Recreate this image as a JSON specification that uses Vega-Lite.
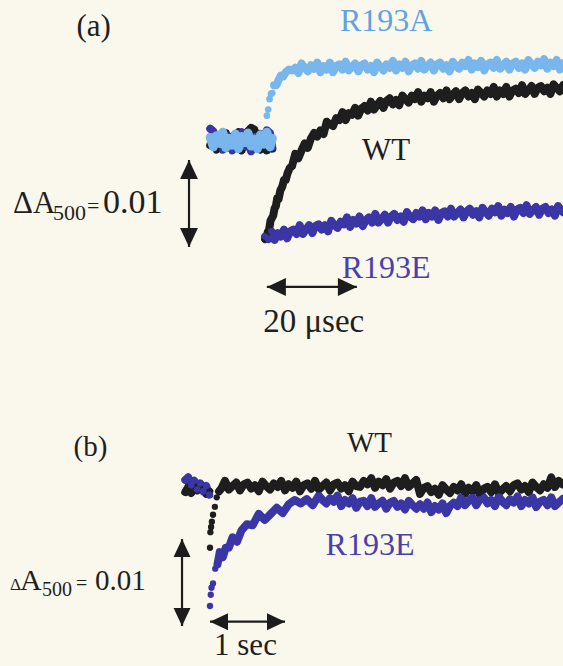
{
  "$schema": "https://vega.github.io/schema/vega-lite/v6.json",
  "background": "#faf8ec",
  "padding": 0,
  "spacing": 0,
  "bounds": "flush",
  "config": {"view": {"stroke": null}, "text": {"font": "Liberation Serif"}},
  "resolve": {"scale": {"x": "independent", "y": "independent", "color": "independent"}},
  "datasets": {
    "aPre": [
      {"s":"WT","t":-12.2,"dA":-0.0006},{"s":"WT","t":-11.5,"dA":0.0003},{"s":"WT","t":-10.8,"dA":-0.0011},{"s":"WT","t":-10.1,"dA":0.0005},{"s":"WT","t":-9.4,"dA":-0.0003},{"s":"WT","t":-8.7,"dA":0.0008},{"s":"WT","t":-8.0,"dA":-0.0009},{"s":"WT","t":-7.3,"dA":0.0004},{"s":"WT","t":-6.6,"dA":-0.0002},{"s":"WT","t":-5.9,"dA":0.0009},{"s":"WT","t":-5.2,"dA":-0.0012},{"s":"WT","t":-4.5,"dA":0.0006},{"s":"WT","t":-3.8,"dA":0.0010},{"s":"WT","t":-3.1,"dA":0.0014},{"s":"WT","t":-2.4,"dA":0.0012},{"s":"WT","t":-1.7,"dA":0.0003},{"s":"WT","t":-1.0,"dA":-0.0011},{"s":"WT","t":-0.3,"dA":0.0005},{"s":"WT","t":0.4,"dA":-0.0012},{"s":"WT","t":1.1,"dA":0.0002},{"s":"WT","t":1.6,"dA":-0.0010},
      {"s":"R193E","t":-12.2,"dA":0.0013},{"s":"R193E","t":-11.5,"dA":0.0010},{"s":"R193E","t":-10.8,"dA":-0.0004},{"s":"R193E","t":-10.1,"dA":0.0002},{"s":"R193E","t":-9.4,"dA":-0.0011},{"s":"R193E","t":-8.7,"dA":0.0006},{"s":"R193E","t":-8.0,"dA":0.0000},{"s":"R193E","t":-7.3,"dA":-0.0012},{"s":"R193E","t":-6.6,"dA":0.0005},{"s":"R193E","t":-5.9,"dA":-0.0003},{"s":"R193E","t":-5.2,"dA":0.0009},{"s":"R193E","t":-4.5,"dA":-0.0008},{"s":"R193E","t":-3.8,"dA":0.0002},{"s":"R193E","t":-3.1,"dA":-0.0013},{"s":"R193E","t":-2.4,"dA":0.0004},{"s":"R193E","t":-1.7,"dA":-0.0006},{"s":"R193E","t":-1.0,"dA":0.0007},{"s":"R193E","t":-0.3,"dA":-0.0002},{"s":"R193E","t":0.4,"dA":0.0011},{"s":"R193E","t":1.1,"dA":0.0008},{"s":"R193E","t":1.6,"dA":-0.0009},
      {"s":"R193A","t":-12.2,"dA":0.0003},{"s":"R193A","t":-11.5,"dA":-0.0008},{"s":"R193A","t":-10.8,"dA":0.0005},{"s":"R193A","t":-10.1,"dA":-0.0004},{"s":"R193A","t":-9.4,"dA":0.0009},{"s":"R193A","t":-8.7,"dA":-0.0009},{"s":"R193A","t":-8.0,"dA":0.0002},{"s":"R193A","t":-7.3,"dA":-0.0006},{"s":"R193A","t":-6.6,"dA":0.0007},{"s":"R193A","t":-5.9,"dA":-0.0010},{"s":"R193A","t":-5.2,"dA":0.0004},{"s":"R193A","t":-4.5,"dA":-0.0003},{"s":"R193A","t":-3.8,"dA":0.0008},{"s":"R193A","t":-3.1,"dA":-0.0007},{"s":"R193A","t":-2.4,"dA":0.0001},{"s":"R193A","t":-1.7,"dA":-0.0010},{"s":"R193A","t":-1.0,"dA":0.0006},{"s":"R193A","t":-0.3,"dA":-0.0005},{"s":"R193A","t":0.4,"dA":0.0009},{"s":"R193A","t":1.1,"dA":-0.0008},{"s":"R193A","t":1.6,"dA":0.0002}
    ],
    "aPost": [
      {"s":"WT","t":0,"dA":-0.0114},{"s":"WT","t":0.3,"dA":-0.0113},{"s":"WT","t":0.6,"dA":-0.0106},{"s":"WT","t":0.9,"dA":-0.0103},{"s":"WT","t":1.2,"dA":-0.0093},{"s":"WT","t":1.5,"dA":-0.0090},{"s":"WT","t":1.8,"dA":-0.0087},{"s":"WT","t":2.1,"dA":-0.0079},{"s":"WT","t":2.4,"dA":-0.0076},{"s":"WT","t":2.7,"dA":-0.0067},{"s":"WT","t":3.0,"dA":-0.0068},{"s":"WT","t":3.4,"dA":-0.0058},{"s":"WT","t":3.8,"dA":-0.0054},{"s":"WT","t":4.2,"dA":-0.0046},{"s":"WT","t":4.6,"dA":-0.0046},{"s":"WT","t":5.0,"dA":-0.0038},{"s":"WT","t":5.5,"dA":-0.0032},{"s":"WT","t":6.0,"dA":-0.0030},{"s":"WT","t":6.7,"dA":-0.0016},{"s":"WT","t":7.4,"dA":-0.0021},{"s":"WT","t":8.1,"dA":-0.0012},{"s":"WT","t":8.8,"dA":-0.0004},{"s":"WT","t":9.5,"dA":-0.0009},{"s":"WT","t":10.2,"dA":0.0002},{"s":"WT","t":10.9,"dA":0.0008},{"s":"WT","t":11.6,"dA":0.0004},{"s":"WT","t":12.3,"dA":0.0011},{"s":"WT","t":13.0,"dA":0.0007},{"s":"WT","t":13.7,"dA":0.0021},{"s":"WT","t":14.4,"dA":0.0018},{"s":"WT","t":15.1,"dA":0.0016},{"s":"WT","t":15.8,"dA":0.0025},{"s":"WT","t":16.5,"dA":0.0023},{"s":"WT","t":17.2,"dA":0.0032},{"s":"WT","t":17.9,"dA":0.0023},{"s":"WT","t":18.6,"dA":0.0031},{"s":"WT","t":19.3,"dA":0.0029},{"s":"WT","t":20.0,"dA":0.0037},{"s":"WT","t":20.7,"dA":0.0028},{"s":"WT","t":21.4,"dA":0.0036},{"s":"WT","t":22.1,"dA":0.0039},{"s":"WT","t":22.8,"dA":0.0034},{"s":"WT","t":23.5,"dA":0.0044},{"s":"WT","t":24.2,"dA":0.0035},{"s":"WT","t":24.9,"dA":0.0040},{"s":"WT","t":25.6,"dA":0.0045},{"s":"WT","t":26.3,"dA":0.0037},{"s":"WT","t":27.0,"dA":0.0045},{"s":"WT","t":27.7,"dA":0.0048},{"s":"WT","t":28.4,"dA":0.0041},{"s":"WT","t":29.1,"dA":0.0046},{"s":"WT","t":29.8,"dA":0.0040},{"s":"WT","t":30.5,"dA":0.0051},{"s":"WT","t":31.2,"dA":0.0047},{"s":"WT","t":31.9,"dA":0.0043},{"s":"WT","t":32.6,"dA":0.0051},{"s":"WT","t":33.3,"dA":0.0047},{"s":"WT","t":34.0,"dA":0.0055},{"s":"WT","t":34.7,"dA":0.0044},{"s":"WT","t":35.4,"dA":0.0051},{"s":"WT","t":36.1,"dA":0.0048},{"s":"WT","t":36.8,"dA":0.0055},{"s":"WT","t":37.5,"dA":0.0044},{"s":"WT","t":38.2,"dA":0.0051},{"s":"WT","t":38.9,"dA":0.0054},{"s":"WT","t":39.6,"dA":0.0048},{"s":"WT","t":40.3,"dA":0.0057},{"s":"WT","t":41.0,"dA":0.0047},{"s":"WT","t":41.7,"dA":0.0052},{"s":"WT","t":42.4,"dA":0.0056},{"s":"WT","t":43.1,"dA":0.0047},{"s":"WT","t":43.8,"dA":0.0054},{"s":"WT","t":44.5,"dA":0.0057},{"s":"WT","t":45.2,"dA":0.0050},{"s":"WT","t":45.9,"dA":0.0054},{"s":"WT","t":46.6,"dA":0.0047},{"s":"WT","t":47.3,"dA":0.0058},{"s":"WT","t":48.0,"dA":0.0054},{"s":"WT","t":48.7,"dA":0.0050},{"s":"WT","t":49.4,"dA":0.0057},{"s":"WT","t":50.1,"dA":0.0053},{"s":"WT","t":50.8,"dA":0.0061},{"s":"WT","t":51.5,"dA":0.0050},{"s":"WT","t":52.2,"dA":0.0057},{"s":"WT","t":52.9,"dA":0.0053},{"s":"WT","t":53.6,"dA":0.0061},{"s":"WT","t":54.3,"dA":0.0050},{"s":"WT","t":55.0,"dA":0.0057},{"s":"WT","t":55.7,"dA":0.0059},{"s":"WT","t":56.4,"dA":0.0054},{"s":"WT","t":57.1,"dA":0.0063},{"s":"WT","t":57.8,"dA":0.0053},{"s":"WT","t":58.5,"dA":0.0057},{"s":"WT","t":59.2,"dA":0.0062},{"s":"WT","t":59.9,"dA":0.0053},{"s":"WT","t":60.6,"dA":0.0060},{"s":"WT","t":61.3,"dA":0.0062},{"s":"WT","t":62.0,"dA":0.0056},{"s":"WT","t":62.7,"dA":0.0060},{"s":"WT","t":63.4,"dA":0.0053},{"s":"WT","t":64.1,"dA":0.0064},{"s":"WT","t":64.8,"dA":0.0060},{"s":"WT","t":65.5,"dA":0.0056},{"s":"WT","t":66.2,"dA":0.0063},
      {"s":"R193E","t":0,"dA":-0.0111},{"s":"R193E","t":0.7,"dA":-0.0114},{"s":"R193E","t":1.4,"dA":-0.0105},{"s":"R193E","t":2.1,"dA":-0.0115},{"s":"R193E","t":2.8,"dA":-0.0107},{"s":"R193E","t":3.5,"dA":-0.0111},{"s":"R193E","t":4.2,"dA":-0.0103},{"s":"R193E","t":4.9,"dA":-0.0113},{"s":"R193E","t":5.6,"dA":-0.0105},{"s":"R193E","t":6.3,"dA":-0.0103},{"s":"R193E","t":7.0,"dA":-0.0108},{"s":"R193E","t":7.7,"dA":-0.0098},{"s":"R193E","t":8.4,"dA":-0.0108},{"s":"R193E","t":9.1,"dA":-0.0103},{"s":"R193E","t":9.8,"dA":-0.0098},{"s":"R193E","t":10.5,"dA":-0.0107},{"s":"R193E","t":11.2,"dA":-0.0099},{"s":"R193E","t":11.9,"dA":-0.0097},{"s":"R193E","t":12.6,"dA":-0.0103},{"s":"R193E","t":13.3,"dA":-0.0098},{"s":"R193E","t":14.0,"dA":-0.0105},{"s":"R193E","t":14.7,"dA":-0.0093},{"s":"R193E","t":15.4,"dA":-0.0098},{"s":"R193E","t":16.1,"dA":-0.0101},{"s":"R193E","t":16.8,"dA":-0.0094},{"s":"R193E","t":17.5,"dA":-0.0097},{"s":"R193E","t":18.2,"dA":-0.0089},{"s":"R193E","t":18.9,"dA":-0.0100},{"s":"R193E","t":19.6,"dA":-0.0092},{"s":"R193E","t":20.3,"dA":-0.0096},{"s":"R193E","t":21.0,"dA":-0.0088},{"s":"R193E","t":21.7,"dA":-0.0099},{"s":"R193E","t":22.4,"dA":-0.0092},{"s":"R193E","t":23.1,"dA":-0.0089},{"s":"R193E","t":23.8,"dA":-0.0095},{"s":"R193E","t":24.5,"dA":-0.0085},{"s":"R193E","t":25.2,"dA":-0.0095},{"s":"R193E","t":25.9,"dA":-0.0091},{"s":"R193E","t":26.6,"dA":-0.0086},{"s":"R193E","t":27.3,"dA":-0.0095},{"s":"R193E","t":28.0,"dA":-0.0088},{"s":"R193E","t":28.7,"dA":-0.0085},{"s":"R193E","t":29.4,"dA":-0.0092},{"s":"R193E","t":30.1,"dA":-0.0088},{"s":"R193E","t":30.8,"dA":-0.0094},{"s":"R193E","t":31.5,"dA":-0.0083},{"s":"R193E","t":32.2,"dA":-0.0088},{"s":"R193E","t":32.9,"dA":-0.0091},{"s":"R193E","t":33.6,"dA":-0.0084},{"s":"R193E","t":34.3,"dA":-0.0088},{"s":"R193E","t":35.0,"dA":-0.0081},{"s":"R193E","t":35.7,"dA":-0.0091},{"s":"R193E","t":36.4,"dA":-0.0084},{"s":"R193E","t":37.1,"dA":-0.0088},{"s":"R193E","t":37.8,"dA":-0.0081},{"s":"R193E","t":38.5,"dA":-0.0092},{"s":"R193E","t":39.2,"dA":-0.0084},{"s":"R193E","t":39.9,"dA":-0.0082},{"s":"R193E","t":40.6,"dA":-0.0088},{"s":"R193E","t":41.3,"dA":-0.0079},{"s":"R193E","t":42.0,"dA":-0.0088},{"s":"R193E","t":42.7,"dA":-0.0084},{"s":"R193E","t":43.4,"dA":-0.0080},{"s":"R193E","t":44.1,"dA":-0.0089},{"s":"R193E","t":44.8,"dA":-0.0082},{"s":"R193E","t":45.5,"dA":-0.0079},{"s":"R193E","t":46.2,"dA":-0.0086},{"s":"R193E","t":46.9,"dA":-0.0082},{"s":"R193E","t":47.6,"dA":-0.0089},{"s":"R193E","t":48.3,"dA":-0.0078},{"s":"R193E","t":49.0,"dA":-0.0083},{"s":"R193E","t":49.7,"dA":-0.0087},{"s":"R193E","t":50.4,"dA":-0.0079},{"s":"R193E","t":51.1,"dA":-0.0083},{"s":"R193E","t":51.8,"dA":-0.0076},{"s":"R193E","t":52.5,"dA":-0.0087},{"s":"R193E","t":53.2,"dA":-0.0080},{"s":"R193E","t":53.9,"dA":-0.0084},{"s":"R193E","t":54.6,"dA":-0.0077},{"s":"R193E","t":55.3,"dA":-0.0088},{"s":"R193E","t":56.0,"dA":-0.0080},{"s":"R193E","t":56.7,"dA":-0.0078},{"s":"R193E","t":57.4,"dA":-0.0084},{"s":"R193E","t":58.1,"dA":-0.0075},{"s":"R193E","t":58.8,"dA":-0.0085},{"s":"R193E","t":59.5,"dA":-0.0081},{"s":"R193E","t":60.2,"dA":-0.0077},{"s":"R193E","t":60.9,"dA":-0.0086},{"s":"R193E","t":61.6,"dA":-0.0079},{"s":"R193E","t":62.3,"dA":-0.0077},{"s":"R193E","t":63.0,"dA":-0.0084},{"s":"R193E","t":63.7,"dA":-0.0080},{"s":"R193E","t":64.4,"dA":-0.0087},{"s":"R193E","t":65.1,"dA":-0.0076},{"s":"R193E","t":65.8,"dA":-0.0081},{"s":"R193E","t":66.2,"dA":-0.0083},
      {"s":"R193A","t":0.4,"dA":0.0028},{"s":"R193A","t":0.7,"dA":0.0035},{"s":"R193A","t":1.0,"dA":0.0047},{"s":"R193A","t":1.3,"dA":0.0053},{"s":"R193A","t":1.6,"dA":0.0054},{"s":"R193A","t":2.0,"dA":0.0063},{"s":"R193A","t":2.5,"dA":0.0063},{"s":"R193A","t":3.0,"dA":0.0069},{"s":"R193A","t":3.5,"dA":0.0074},{"s":"R193A","t":4.0,"dA":0.0073},{"s":"R193A","t":4.6,"dA":0.0078},{"s":"R193A","t":5.3,"dA":0.0081},{"s":"R193A","t":6.0,"dA":0.0080},{"s":"R193A","t":6.7,"dA":0.0083},{"s":"R193A","t":7.4,"dA":0.0077},{"s":"R193A","t":8.1,"dA":0.0088},{"s":"R193A","t":8.8,"dA":0.0083},{"s":"R193A","t":9.5,"dA":0.0079},{"s":"R193A","t":10.2,"dA":0.0086},{"s":"R193A","t":10.9,"dA":0.0082},{"s":"R193A","t":11.6,"dA":0.0089},{"s":"R193A","t":12.3,"dA":0.0078},{"s":"R193A","t":13.0,"dA":0.0085},{"s":"R193A","t":13.7,"dA":0.0081},{"s":"R193A","t":14.4,"dA":0.0089},{"s":"R193A","t":15.1,"dA":0.0078},{"s":"R193A","t":15.8,"dA":0.0085},{"s":"R193A","t":16.5,"dA":0.0087},{"s":"R193A","t":17.2,"dA":0.0081},{"s":"R193A","t":17.9,"dA":0.0090},{"s":"R193A","t":18.6,"dA":0.0080},{"s":"R193A","t":19.3,"dA":0.0084},{"s":"R193A","t":20.0,"dA":0.0088},{"s":"R193A","t":20.7,"dA":0.0079},{"s":"R193A","t":21.4,"dA":0.0086},{"s":"R193A","t":22.1,"dA":0.0088},{"s":"R193A","t":22.8,"dA":0.0081},{"s":"R193A","t":23.5,"dA":0.0085},{"s":"R193A","t":24.2,"dA":0.0078},{"s":"R193A","t":24.9,"dA":0.0089},{"s":"R193A","t":25.6,"dA":0.0084},{"s":"R193A","t":26.3,"dA":0.0080},{"s":"R193A","t":27.0,"dA":0.0087},{"s":"R193A","t":27.7,"dA":0.0083},{"s":"R193A","t":28.4,"dA":0.0091},{"s":"R193A","t":29.1,"dA":0.0080},{"s":"R193A","t":29.8,"dA":0.0087},{"s":"R193A","t":30.5,"dA":0.0083},{"s":"R193A","t":31.2,"dA":0.0090},{"s":"R193A","t":31.9,"dA":0.0079},{"s":"R193A","t":32.6,"dA":0.0086},{"s":"R193A","t":33.3,"dA":0.0088},{"s":"R193A","t":34.0,"dA":0.0082},{"s":"R193A","t":34.7,"dA":0.0091},{"s":"R193A","t":35.4,"dA":0.0081},{"s":"R193A","t":36.1,"dA":0.0085},{"s":"R193A","t":36.8,"dA":0.0089},{"s":"R193A","t":37.5,"dA":0.0080},{"s":"R193A","t":38.2,"dA":0.0087},{"s":"R193A","t":38.9,"dA":0.0089},{"s":"R193A","t":39.6,"dA":0.0082},{"s":"R193A","t":40.3,"dA":0.0086},{"s":"R193A","t":41.0,"dA":0.0079},{"s":"R193A","t":41.7,"dA":0.0090},{"s":"R193A","t":42.4,"dA":0.0085},{"s":"R193A","t":43.1,"dA":0.0082},{"s":"R193A","t":43.8,"dA":0.0089},{"s":"R193A","t":44.5,"dA":0.0085},{"s":"R193A","t":45.2,"dA":0.0092},{"s":"R193A","t":45.9,"dA":0.0081},{"s":"R193A","t":46.6,"dA":0.0088},{"s":"R193A","t":47.3,"dA":0.0084},{"s":"R193A","t":48.0,"dA":0.0091},{"s":"R193A","t":48.7,"dA":0.0080},{"s":"R193A","t":49.4,"dA":0.0087},{"s":"R193A","t":50.1,"dA":0.0089},{"s":"R193A","t":50.8,"dA":0.0083},{"s":"R193A","t":51.5,"dA":0.0092},{"s":"R193A","t":52.2,"dA":0.0082},{"s":"R193A","t":52.9,"dA":0.0086},{"s":"R193A","t":53.6,"dA":0.0090},{"s":"R193A","t":54.3,"dA":0.0081},{"s":"R193A","t":55.0,"dA":0.0088},{"s":"R193A","t":55.7,"dA":0.0090},{"s":"R193A","t":56.4,"dA":0.0083},{"s":"R193A","t":57.1,"dA":0.0088},{"s":"R193A","t":57.8,"dA":0.0081},{"s":"R193A","t":58.5,"dA":0.0092},{"s":"R193A","t":59.2,"dA":0.0087},{"s":"R193A","t":59.9,"dA":0.0083},{"s":"R193A","t":60.6,"dA":0.0090},{"s":"R193A","t":61.3,"dA":0.0086},{"s":"R193A","t":62.0,"dA":0.0093},{"s":"R193A","t":62.7,"dA":0.0082},{"s":"R193A","t":63.4,"dA":0.0089},{"s":"R193A","t":64.1,"dA":0.0085},{"s":"R193A","t":64.8,"dA":0.0092},{"s":"R193A","t":65.5,"dA":0.0081},{"s":"R193A","t":66.2,"dA":0.0088}
    ],
    "bPre": [
      {"s":"WT","t":-0.33,"dA":-0.0005},{"s":"WT","t":-0.29,"dA":0.0001},{"s":"WT","t":-0.25,"dA":-0.0006},{"s":"WT","t":-0.21,"dA":0.0002},{"s":"WT","t":-0.17,"dA":-0.0003},{"s":"WT","t":-0.13,"dA":0.0004},{"s":"WT","t":-0.09,"dA":-0.0001},{"s":"WT","t":-0.05,"dA":-0.0007},{"s":"WT","t":-0.01,"dA":-0.0004},
      {"s":"R193E","t":-0.33,"dA":0.0009},{"s":"R193E","t":-0.29,"dA":0.0012},{"s":"R193E","t":-0.25,"dA":0.0003},{"s":"R193E","t":-0.21,"dA":0.0008},{"s":"R193E","t":-0.17,"dA":-0.0002},{"s":"R193E","t":-0.13,"dA":0.0005},{"s":"R193E","t":-0.09,"dA":-0.0004},{"s":"R193E","t":-0.05,"dA":0.0002},{"s":"R193E","t":-0.01,"dA":-0.0008}
    ],
    "bPost": [
      {"s":"WT","t":0,"dA":-0.0069},{"s":"WT","t":0.005,"dA":-0.0051},{"s":"WT","t":0.015,"dA":-0.0045},{"s":"WT","t":0.025,"dA":-0.0039},{"s":"WT","t":0.04,"dA":-0.0031},{"s":"WT","t":0.065,"dA":-0.0022},{"s":"WT","t":0.09,"dA":-0.0011},{"s":"WT","t":0.12,"dA":-0.0004},
      {"s":"WT","t":0.15,"dA":-0.0001},{"s":"WT","t":0.2,"dA":0.0008},{"s":"WT","t":0.25,"dA":-0.0002},{"s":"WT","t":0.3,"dA":0.0002},{"s":"WT","t":0.35,"dA":0.0006},{"s":"WT","t":0.4,"dA":-0.0003},{"s":"WT","t":0.45,"dA":0.0004},{"s":"WT","t":0.5,"dA":0.0006},{"s":"WT","t":0.55,"dA":-0.0001},{"s":"WT","t":0.6,"dA":0.0003},{"s":"WT","t":0.65,"dA":-0.0004},{"s":"WT","t":0.7,"dA":0.0007},{"s":"WT","t":0.75,"dA":0.0002},{"s":"WT","t":0.8,"dA":-0.0002},{"s":"WT","t":0.85,"dA":0.0005},{"s":"WT","t":0.9,"dA":0.0001},{"s":"WT","t":0.95,"dA":0.0008},{"s":"WT","t":1.0,"dA":-0.0003},{"s":"WT","t":1.05,"dA":0.0004},{"s":"WT","t":1.1,"dA":0.0000},{"s":"WT","t":1.15,"dA":0.0007},{"s":"WT","t":1.2,"dA":-0.0004},{"s":"WT","t":1.25,"dA":0.0003},{"s":"WT","t":1.3,"dA":0.0005},{"s":"WT","t":1.35,"dA":-0.0001},{"s":"WT","t":1.4,"dA":0.0008},{"s":"WT","t":1.45,"dA":-0.0002},{"s":"WT","t":1.5,"dA":0.0002},{"s":"WT","t":1.55,"dA":0.0006},{"s":"WT","t":1.6,"dA":-0.0003},{"s":"WT","t":1.65,"dA":0.0004},{"s":"WT","t":1.7,"dA":0.0006},{"s":"WT","t":1.75,"dA":-0.0001},{"s":"WT","t":1.8,"dA":0.0003},{"s":"WT","t":1.85,"dA":-0.0004},{"s":"WT","t":1.9,"dA":0.0007},{"s":"WT","t":1.95,"dA":0.0002},{"s":"WT","t":2.0,"dA":0.0001},{"s":"WT","t":2.05,"dA":0.0008},{"s":"WT","t":2.1,"dA":0.0004},{"s":"WT","t":2.15,"dA":0.0011},{"s":"WT","t":2.2,"dA":0.0000},{"s":"WT","t":2.25,"dA":0.0007},{"s":"WT","t":2.3,"dA":0.0003},{"s":"WT","t":2.35,"dA":0.0010},{"s":"WT","t":2.4,"dA":-0.0001},{"s":"WT","t":2.45,"dA":0.0006},{"s":"WT","t":2.5,"dA":0.0008},{"s":"WT","t":2.55,"dA":0.0002},{"s":"WT","t":2.6,"dA":0.0011},{"s":"WT","t":2.65,"dA":0.0001},{"s":"WT","t":2.7,"dA":0.0005},{"s":"WT","t":2.75,"dA":0.0009},{"s":"WT","t":2.8,"dA":-0.0007},{"s":"WT","t":2.85,"dA":0.0000},{"s":"WT","t":2.9,"dA":0.0002},{"s":"WT","t":2.95,"dA":-0.0005},{"s":"WT","t":3.0,"dA":-0.0001},{"s":"WT","t":3.05,"dA":-0.0008},{"s":"WT","t":3.1,"dA":0.0003},{"s":"WT","t":3.15,"dA":-0.0002},{"s":"WT","t":3.2,"dA":-0.0006},{"s":"WT","t":3.25,"dA":0.0001},{"s":"WT","t":3.3,"dA":-0.0003},{"s":"WT","t":3.35,"dA":0.0004},{"s":"WT","t":3.4,"dA":-0.0007},{"s":"WT","t":3.45,"dA":0.0000},{"s":"WT","t":3.5,"dA":-0.0004},{"s":"WT","t":3.55,"dA":0.0003},{"s":"WT","t":3.6,"dA":-0.0008},{"s":"WT","t":3.65,"dA":-0.0001},{"s":"WT","t":3.7,"dA":0.0001},{"s":"WT","t":3.75,"dA":-0.0005},{"s":"WT","t":3.8,"dA":0.0004},{"s":"WT","t":3.85,"dA":-0.0006},{"s":"WT","t":3.9,"dA":-0.0002},{"s":"WT","t":3.95,"dA":0.0002},{"s":"WT","t":4.0,"dA":-0.0004},{"s":"WT","t":4.05,"dA":0.0003},{"s":"WT","t":4.1,"dA":0.0005},{"s":"WT","t":4.15,"dA":-0.0002},{"s":"WT","t":4.2,"dA":0.0002},{"s":"WT","t":4.25,"dA":-0.0005},{"s":"WT","t":4.3,"dA":0.0006},{"s":"WT","t":4.35,"dA":0.0001},{"s":"WT","t":4.4,"dA":-0.0003},{"s":"WT","t":4.45,"dA":0.0004},{"s":"WT","t":4.5,"dA":0.0000},{"s":"WT","t":4.55,"dA":0.0012},{"s":"WT","t":4.6,"dA":0.0001},{"s":"WT","t":4.65,"dA":0.0008},{"s":"WT","t":4.7,"dA":0.0004},
      {"s":"R193E","t":0,"dA":-0.0136},{"s":"R193E","t":0.01,"dA":-0.0123},{"s":"R193E","t":0.02,"dA":-0.0115},{"s":"R193E","t":0.04,"dA":-0.0110},{"s":"R193E","t":0.07,"dA":-0.0093},{"s":"R193E","t":0.1,"dA":-0.0088},{"s":"R193E","t":0.13,"dA":-0.0074},{"s":"R193E","t":0.17,"dA":-0.0080},{"s":"R193E","t":0.21,"dA":-0.0069},{"s":"R193E","t":0.25,"dA":-0.0069},{"s":"R193E","t":0.3,"dA":-0.0057},{"s":"R193E","t":0.36,"dA":-0.0062},{"s":"R193E","t":0.42,"dA":-0.0049},{"s":"R193E","t":0.49,"dA":-0.0042},{"s":"R193E","t":0.57,"dA":-0.0043},{"s":"R193E","t":0.65,"dA":-0.0030},{"s":"R193E","t":0.73,"dA":-0.0037},{"s":"R193E","t":0.81,"dA":-0.0030},{"s":"R193E","t":0.89,"dA":-0.0023},{"s":"R193E","t":0.97,"dA":-0.0029},{"s":"R193E","t":1.05,"dA":-0.0019},{"s":"R193E","t":1.13,"dA":-0.0014},{"s":"R193E","t":1.21,"dA":-0.0018},{"s":"R193E","t":1.29,"dA":-0.0013},{"s":"R193E","t":1.37,"dA":-0.0020},{"s":"R193E","t":1.45,"dA":-0.0009},{"s":"R193E","t":1.5,"dA":-0.0014},{"s":"R193E","t":1.55,"dA":-0.0018},{"s":"R193E","t":1.6,"dA":-0.0012},{"s":"R193E","t":1.65,"dA":-0.0016},{"s":"R193E","t":1.7,"dA":-0.0009},{"s":"R193E","t":1.75,"dA":-0.0021},{"s":"R193E","t":1.8,"dA":-0.0014},{"s":"R193E","t":1.85,"dA":-0.0018},{"s":"R193E","t":1.9,"dA":-0.0012},{"s":"R193E","t":1.95,"dA":-0.0023},{"s":"R193E","t":2.0,"dA":-0.0016},{"s":"R193E","t":2.05,"dA":-0.0015},{"s":"R193E","t":2.1,"dA":-0.0021},{"s":"R193E","t":2.15,"dA":-0.0012},{"s":"R193E","t":2.2,"dA":-0.0022},{"s":"R193E","t":2.25,"dA":-0.0018},{"s":"R193E","t":2.3,"dA":-0.0015},{"s":"R193E","t":2.35,"dA":-0.0024},{"s":"R193E","t":2.4,"dA":-0.0017},{"s":"R193E","t":2.45,"dA":-0.0015},{"s":"R193E","t":2.5,"dA":-0.0022},{"s":"R193E","t":2.55,"dA":-0.0018},{"s":"R193E","t":2.6,"dA":-0.0025},{"s":"R193E","t":2.65,"dA":-0.0015},{"s":"R193E","t":2.7,"dA":-0.0020},{"s":"R193E","t":2.75,"dA":-0.0024},{"s":"R193E","t":2.8,"dA":-0.0019},{"s":"R193E","t":2.85,"dA":-0.0024},{"s":"R193E","t":2.9,"dA":-0.0017},{"s":"R193E","t":2.95,"dA":-0.0028},{"s":"R193E","t":3.0,"dA":-0.0021},{"s":"R193E","t":3.05,"dA":-0.0025},{"s":"R193E","t":3.1,"dA":-0.0018},{"s":"R193E","t":3.15,"dA":-0.0029},{"s":"R193E","t":3.2,"dA":-0.0021},{"s":"R193E","t":3.25,"dA":-0.0017},{"s":"R193E","t":3.3,"dA":-0.0021},{"s":"R193E","t":3.35,"dA":-0.0011},{"s":"R193E","t":3.4,"dA":-0.0020},{"s":"R193E","t":3.45,"dA":-0.0015},{"s":"R193E","t":3.5,"dA":-0.0011},{"s":"R193E","t":3.55,"dA":-0.0020},{"s":"R193E","t":3.6,"dA":-0.0013},{"s":"R193E","t":3.65,"dA":-0.0011},{"s":"R193E","t":3.7,"dA":-0.0018},{"s":"R193E","t":3.75,"dA":-0.0014},{"s":"R193E","t":3.8,"dA":-0.0021},{"s":"R193E","t":3.85,"dA":-0.0010},{"s":"R193E","t":3.9,"dA":-0.0016},{"s":"R193E","t":3.95,"dA":-0.0020},{"s":"R193E","t":4.0,"dA":-0.0013},{"s":"R193E","t":4.05,"dA":-0.0017},{"s":"R193E","t":4.1,"dA":-0.0010},{"s":"R193E","t":4.15,"dA":-0.0021},{"s":"R193E","t":4.2,"dA":-0.0014},{"s":"R193E","t":4.25,"dA":-0.0018},{"s":"R193E","t":4.3,"dA":-0.0011},{"s":"R193E","t":4.35,"dA":-0.0022},{"s":"R193E","t":4.4,"dA":-0.0016},{"s":"R193E","t":4.45,"dA":-0.0014},{"s":"R193E","t":4.5,"dA":-0.0020},{"s":"R193E","t":4.55,"dA":-0.0011},{"s":"R193E","t":4.6,"dA":-0.0021},{"s":"R193E","t":4.65,"dA":-0.0017},{"s":"R193E","t":4.7,"dA":-0.0013}
    ]
  },
  "vconcat": [
    {
      "width": 563,
      "height": 380,
      "encoding": {
        "x": {"field": "t", "type": "quantitative", "scale": {"domain": [-58.9, 66.2], "nice": false, "zero": false}, "axis": null},
        "y": {"field": "dA", "type": "quantitative", "scale": {"domain": [-0.0276, 0.0161], "nice": false, "zero": false}, "axis": null},
        "color": {"field": "s", "type": "nominal", "scale": {"domain": ["WT", "R193E", "R193A"], "range": ["#1e1e1e", "#3b36a6", "#78b6ec"]}, "legend": null}
      },
      "layer": [
        {
          "data": {"name": "aPre"},
          "transform": [{"filter": "datum.s !== 'R193A'"}],
          "layer": [
            {"mark": {"type": "line", "strokeWidth": 8, "strokeJoin": "round", "strokeCap": "round"}},
            {"mark": {"type": "circle", "size": 44, "opacity": 1}}
          ]
        },
        {
          "data": {"name": "aPre"},
          "transform": [{"filter": "datum.s === 'R193A'"}],
          "layer": [
            {"mark": {"type": "line", "strokeWidth": 9, "strokeJoin": "round", "strokeCap": "round"}},
            {"mark": {"type": "circle", "size": 48, "opacity": 1}}
          ]
        },
        {
          "data": {"name": "aPost"},
          "transform": [{"filter": "datum.s !== 'R193A' || datum.t >= 2"}],
          "mark": {"type": "line", "strokeWidth": 8, "strokeJoin": "round", "strokeCap": "round"}
        },
        {
          "data": {"name": "aPost"},
          "mark": {"type": "circle", "size": 44, "opacity": 1}
        },
        {
          "data": {"values": [
            {"dir": "v", "t": -16.9, "dA": -0.0023, "t2": -16.9, "dA2": -0.0123},
            {"dir": "h", "t": 0.4, "dA": -0.0169, "t2": 20.4, "dA2": -0.0169}
          ]},
          "encoding": {"color": {"value": "#1c1c1c"}},
          "layer": [
            {"mark": {"type": "rule", "strokeWidth": 2.2}, "encoding": {"x2": {"field": "t2"}, "y2": {"field": "dA2"}}},
            {"transform": [{"filter": "datum.dir === 'v'"}], "mark": {"type": "point", "filled": true, "opacity": 1, "size": 1444, "shape": "M0,0L0.47,1L-0.47,1Z"}, "encoding": {}},
            {"transform": [{"filter": "datum.dir === 'v'"}], "mark": {"type": "point", "filled": true, "opacity": 1, "size": 1444, "shape": "M0,0L0.47,-1L-0.47,-1Z"}, "encoding": {"y": {"field": "dA2", "type": "quantitative"}}},
            {"transform": [{"filter": "datum.dir === 'h'"}], "mark": {"type": "point", "filled": true, "opacity": 1, "size": 1444, "shape": "M0,0L1,0.47L1,-0.47Z"}, "encoding": {}},
            {"transform": [{"filter": "datum.dir === 'h'"}], "mark": {"type": "point", "filled": true, "opacity": 1, "size": 1444, "shape": "M0,0L-1,0.47L-1,-0.47Z"}, "encoding": {"x": {"field": "t2", "type": "quantitative"}}}
          ]
        },
        {
          "data": {"values": [{"label": "(a)", "t": -38.1, "dA": 0.012}, {"label": "WT", "t": 26.9, "dA": -0.0023}]},
          "mark": {"type": "text", "fontSize": 31, "align": "center", "baseline": "alphabetic"},
          "encoding": {"text": {"field": "label"}, "color": {"value": "#1f1f1f"}}
        },
        {
          "data": {"values": [{"label": "R193A", "t": 26.9, "dA": 0.0125}]},
          "mark": {"type": "text", "fontSize": 32, "align": "center", "baseline": "alphabetic"},
          "encoding": {"text": {"field": "label"}, "color": {"value": "#5fa3e3"}}
        },
        {
          "data": {"values": [{"label": "R193E", "t": 26.9, "dA": -0.0159}]},
          "mark": {"type": "text", "fontSize": 32, "align": "center", "baseline": "alphabetic"},
          "encoding": {"text": {"field": "label"}, "color": {"value": "#4a3fae"}}
        },
        {
          "data": {"values": [{"label": "20 μsec", "t": 10.8, "dA": -0.0221}]},
          "mark": {"type": "text", "fontSize": 33, "align": "center", "baseline": "alphabetic"},
          "encoding": {"text": {"field": "label"}, "color": {"value": "#1f1f1f"}}
        },
        {
          "data": {"values": [{"t": -56.0, "dA": -0.0084}]},
          "encoding": {"color": {"value": "#1f1f1f"}},
          "layer": [
            {"mark": {"type": "text", "text": "ΔA", "fontSize": 31, "align": "left", "baseline": "alphabetic"}},
            {"mark": {"type": "text", "text": "500", "fontSize": 22, "align": "left", "baseline": "alphabetic", "dx": 40, "dy": 7}},
            {"mark": {"type": "text", "text": "=", "fontSize": 22, "align": "left", "baseline": "alphabetic", "dx": 74}},
            {"mark": {"type": "text", "text": "0.01", "fontSize": 34, "align": "left", "baseline": "alphabetic", "dx": 90}}
          ]
        }
      ]
    },
    {
      "width": 563,
      "height": 286,
      "encoding": {
        "x": {"field": "t", "type": "quantitative", "scale": {"domain": [-2.8, 4.7067], "nice": false, "zero": false}, "axis": null},
        "y": {"field": "dA", "type": "quantitative", "scale": {"domain": [-0.0205, 0.0124], "nice": false, "zero": false}, "axis": null},
        "color": {"field": "s", "type": "nominal", "scale": {"domain": ["WT", "R193E"], "range": ["#1e1e1e", "#3b36a6"]}, "legend": null}
      },
      "layer": [
        {
          "data": {"name": "bPre"},
          "mark": {"type": "line", "strokeWidth": 8, "strokeJoin": "round", "strokeCap": "round"}
        },
        {
          "data": {"name": "bPre"},
          "mark": {"type": "circle", "size": 44, "opacity": 1}
        },
        {
          "data": {"name": "bPost"},
          "transform": [{"filter": "datum.t >= 0.1"}],
          "mark": {"type": "line", "strokeWidth": 8, "strokeJoin": "round", "strokeCap": "round"}
        },
        {
          "data": {"name": "bPost"},
          "mark": {"type": "circle", "size": 40, "opacity": 1}
        },
        {
          "data": {"values": [
            {"dir": "v", "t": -0.373, "dA": -0.0059, "t2": -0.373, "dA2": -0.0159},
            {"dir": "h", "t": 0, "dA": -0.0154, "t2": 1, "dA2": -0.0154}
          ]},
          "encoding": {"color": {"value": "#1c1c1c"}},
          "layer": [
            {"mark": {"type": "rule", "strokeWidth": 2.2}, "encoding": {"x2": {"field": "t2"}, "y2": {"field": "dA2"}}},
            {"transform": [{"filter": "datum.dir === 'v'"}], "mark": {"type": "point", "filled": true, "opacity": 1, "size": 1296, "shape": "M0,0L0.47,1L-0.47,1Z"}, "encoding": {}},
            {"transform": [{"filter": "datum.dir === 'v'"}], "mark": {"type": "point", "filled": true, "opacity": 1, "size": 1296, "shape": "M0,0L0.47,-1L-0.47,-1Z"}, "encoding": {"y": {"field": "dA2", "type": "quantitative"}}},
            {"transform": [{"filter": "datum.dir === 'h'"}], "mark": {"type": "point", "filled": true, "opacity": 1, "size": 1296, "shape": "M0,0L1,0.47L1,-0.47Z"}, "encoding": {}},
            {"transform": [{"filter": "datum.dir === 'h'"}], "mark": {"type": "point", "filled": true, "opacity": 1, "size": 1296, "shape": "M0,0L-1,0.47L-1,-0.47Z"}, "encoding": {"x": {"field": "t2", "type": "quantitative"}}}
          ]
        },
        {
          "data": {"values": [{"label": "(b)", "t": -1.593, "dA": 0.0037}, {"label": "WT", "t": 2.127, "dA": 0.0041}]},
          "mark": {"type": "text", "fontSize": 29, "align": "center", "baseline": "alphabetic"},
          "encoding": {"text": {"field": "label"}, "color": {"value": "#1f1f1f"}}
        },
        {
          "data": {"values": [{"label": "R193E", "t": 2.133, "dA": -0.0077}]},
          "mark": {"type": "text", "fontSize": 32, "align": "center", "baseline": "alphabetic"},
          "encoding": {"text": {"field": "label"}, "color": {"value": "#4a3fae"}}
        },
        {
          "data": {"values": [{"label": "1 sec", "t": 0.473, "dA": -0.0192}]},
          "mark": {"type": "text", "fontSize": 31, "align": "center", "baseline": "alphabetic"},
          "encoding": {"text": {"field": "label"}, "color": {"value": "#1f1f1f"}}
        },
        {
          "data": {"values": [{"t": -2.667, "dA": -0.0118}]},
          "encoding": {"color": {"value": "#1f1f1f"}},
          "layer": [
            {"mark": {"type": "text", "text": "Δ", "fontSize": 17, "align": "left", "baseline": "alphabetic"}},
            {"mark": {"type": "text", "text": "A", "fontSize": 30, "align": "left", "baseline": "alphabetic", "dx": 10}},
            {"mark": {"type": "text", "text": "500", "fontSize": 20, "align": "left", "baseline": "alphabetic", "dx": 32, "dy": 6}},
            {"mark": {"type": "text", "text": "=", "fontSize": 20, "align": "left", "baseline": "alphabetic", "dx": 66}},
            {"mark": {"type": "text", "text": "0.01", "fontSize": 29, "align": "left", "baseline": "alphabetic", "dx": 85}}
          ]
        }
      ]
    }
  ]
}
